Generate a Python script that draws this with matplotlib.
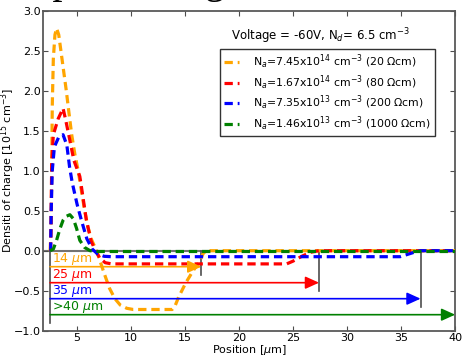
import matplotlib
matplotlib.use("Agg")
import matplotlib.pyplot as plt
import numpy as np

plt.rcParams["lines.scale_dashes"] = False

# --- data ---
x_20 = [2.5, 2.6, 2.65, 2.7, 2.8, 2.95, 3.1, 3.3, 3.5, 3.75, 4.0, 4.25, 4.5, 4.8,
        5.1, 5.4, 5.7, 6.0, 6.3, 6.8, 7.1, 7.55, 8.0, 8.5, 9.0, 9.6, 10.2, 13.8,
        14.1, 14.4, 15.07, 15.7, 16.3, 16.7, 17.0, 40.0]
y_20 = [0.0, 0.3, 1.0, 1.8, 2.4, 2.7, 2.78, 2.7, 2.5, 2.25, 2.0, 1.72, 1.45, 1.2,
        1.0, 0.75, 0.5, 0.3, 0.15, 0.0, -0.12, -0.3, -0.47, -0.6, -0.68, -0.72,
        -0.735, -0.735, -0.68, -0.58, -0.40, -0.26, -0.14, -0.03, 0.0, 0.0]

x_80 = [2.55, 2.6, 2.65, 2.8, 3.25, 3.7, 3.95, 4.3, 4.7, 5.25, 5.4, 5.86, 6.3,
        6.7, 7.1, 7.6, 8.2, 24.4, 25.0, 25.8, 26.6, 27.4, 40.0]
y_80 = [0.0, 0.5, 1.1, 1.45, 1.65, 1.78, 1.63, 1.4, 1.13, 0.93, 0.8, 0.38, 0.12,
        0.0, -0.09, -0.15, -0.165, -0.165, -0.13, -0.07, -0.02, 0.0, 0.0]

x_200 = [2.55, 2.6, 2.7, 2.9, 3.3, 3.7, 4.05, 4.3, 4.55, 5.0, 5.4, 5.9, 6.4, 6.9,
         7.5, 8.2, 34.9, 35.5, 36.2, 36.8, 40.0]
y_200 = [0.0, 0.5, 1.0, 1.3, 1.42, 1.45, 1.32, 1.05, 0.85, 0.58, 0.38, 0.15, 0.02,
         -0.04, -0.07, -0.075, -0.075, -0.05, -0.02, 0.0, 0.0]

x_1000 = [2.5, 2.8, 3.1, 3.4, 3.7, 4.0, 4.33, 4.65, 4.95, 5.25, 5.7, 6.2, 7.0, 40.0]
y_1000 = [0.0, 0.02, 0.13, 0.27, 0.38, 0.43, 0.45, 0.4, 0.28, 0.13, 0.04, 0.0,
          -0.01, -0.01]

labels = [r"N$_a$=7.45x10$^{14}$ cm$^{-3}$ (20 $\Omega$cm)",
          r"N$_a$=1.67x10$^{14}$ cm$^{-3}$ (80 $\Omega$cm)",
          r"N$_a$=7.35x10$^{13}$ cm$^{-3}$ (200 $\Omega$cm)",
          r"N$_a$=1.46x10$^{13}$ cm$^{-3}$ (1000 $\Omega$cm)"]
colors = ["orange", "red", "blue", "green"]

# depletion widths
x_start = 2.5
depl_end = [16.5, 27.4, 36.8, 40.0]
depl_y = [-0.2, -0.4, -0.6, -0.8]
depl_text = [r"14 $\mu$m", r"25 $\mu$m", r"35 $\mu$m", r">40 $\mu$m"]
depl_tick_bottom = [-0.3, -0.51, -0.7]

fig = plt.figure(figsize=(4.63, 3.58), dpi=100)
ax = fig.add_axes([0.0935, 0.0763, 0.8895, 0.8937])

fig.text(30 / 463, 1.0196, "Space charge", family="Liberation Serif",
         fontsize=29, ha="left", va="baseline")

ax.axhline(0, color="0.45", lw=1.5, zorder=1)

for xs, ys, c, lab in zip([x_20, x_80, x_200, x_1000], [y_20, y_80, y_200, y_1000],
                          colors, labels):
    ax.plot(xs, ys, color=c, lw=2.3, dashes=(6, 3.5), label=lab, zorder=3)

ax.plot([x_start, x_start], [0, -0.9], color="0.3", lw=1.2, zorder=2)
for xe, yb in zip(depl_end[:3], depl_tick_bottom):
    ax.plot([xe, xe], [0, yb], color="0.3", lw=1.2, zorder=2)

for xe, yy, c, t in zip(depl_end, depl_y, colors, depl_text):
    ax.annotate("", xy=(xe, yy), xytext=(x_start, yy),
                arrowprops=dict(arrowstyle="-|>,head_length=0.55,head_width=0.25",
                                color=c, lw=1.2, mutation_scale=15,
                                shrinkA=0, shrinkB=0), zorder=4)
    ax.text(x_start + 0.2, yy + 0.09, t, color=c, fontsize=9, va="center")

ax.set_xlim(1.87, 40)
ax.set_ylim(-1.0, 3.0)
ax.set_xticks(np.arange(5, 41, 5))
ax.set_yticks(np.arange(-1.0, 3.01, 0.5))
ax.tick_params(direction="in", top=True, right=True, length=3.5, labelsize=8,
               color="0.3", pad=2)
for s in ax.spines.values():
    s.set_color("0.35")
    s.set_linewidth(1.3)

ax.set_xlabel(r"Position [$\mu$m]", fontsize=8, labelpad=0)
ax.set_ylabel(r"Densiti of charge [10$^{15}$ cm$^{-3}$]", fontsize=8)
ax.yaxis.set_label_coords(-0.064, 0.5)

leg = ax.legend(loc="upper right", bbox_to_anchor=(0.95, 0.879), fontsize=7.8,
                handlelength=1.4, handletextpad=1.3, fancybox=False,
                framealpha=1, edgecolor="0.2", borderpad=0.35, labelspacing=0.2,
                borderaxespad=0)
leg.get_frame().set_linewidth(1.0)
ax.text(0.672, 0.919, r"Voltage = -60V, N$_d$= 6.5 cm$^{-3}$", fontsize=8.5,
        ha="center", va="center", transform=ax.transAxes)

fig.savefig("out.png", dpi=100)
